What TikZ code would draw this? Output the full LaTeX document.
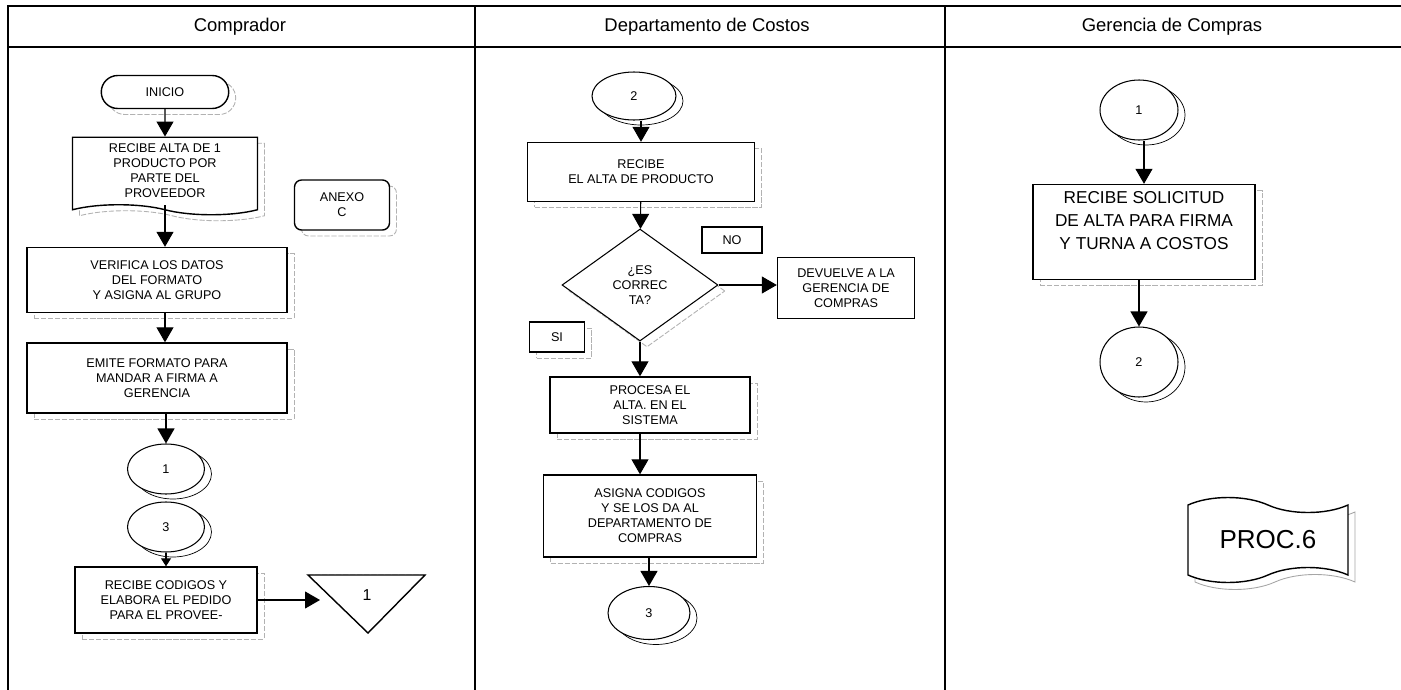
\documentclass[tikz,border=0pt]{standalone}
\usepackage{fontspec}
\setmainfont{Liberation Sans}
\usetikzlibrary{arrows.meta}
\usetikzlibrary{shapes.geometric, shapes.misc, shapes.symbols, shadows}

\tikzset{
  base/.style={draw, line width=0.8pt, fill=white, align=center, inner sep=1pt,
    font=\fontsize{7.2}{8.5}\selectfont},
  sombra/.style={general shadow={shadow xshift=0.14cm, shadow yshift=-0.12cm,
    draw=gray!60, fill=white, line width=0.5pt, dash pattern=on 3pt off 1pt}},
  sombraelip/.style={general shadow={shadow xshift=0.14cm, shadow yshift=-0.1cm,
    draw=black, fill=white, line width=0.4pt}},
  caja/.style={base, sombra, rectangle},
  terminal/.style={base, sombra, rounded rectangle},
  documento/.style={base, sombra, tape, tape bend top=none,
    tape bend bottom=out and in, tape bend height=0.2cm},
  conector/.style={base, sombraelip, ellipse, inner sep=0pt, line width=0.6pt},
  decision/.style={base, sombra, diamond, inner sep=0pt, line width=0.6pt},
  flecha/.style={-{Triangle[width=0.34cm,length=0.3cm]}, line width=0.6pt},
  titulo/.style={font=\fontsize{10.5}{12}\selectfont}
}

\begin{document}
\begin{tikzpicture}[x=0.02cm, y=-0.02cm]
    \useasboundingbox (0,0) rectangle (1401,690);

    % Carriles
    \draw[line width=0.6pt] (8,690) -- (8,6) -- (1401,6);
    \draw[line width=0.6pt] (8,47) -- (1401,47);
    \draw[line width=0.6pt] (475,6) -- (475,690);
    \draw[line width=0.6pt] (945,6) -- (945,690);
    \node[titulo] (tcomp) at (240,27) {Comprador};
    \node[titulo] (tcost) at (707,27) {Departamento de Costos};
    \node[titulo] (tger) at (1172,27) {Gerencia de Compras};

    % Comprador
    \node[terminal, minimum width=2.62cm, minimum height=0.66cm] (inicio) at (165,92) {INICIO};
    \node[documento, minimum width=3.7cm, minimum height=1.55cm] (recibealta) at (165,171)
        {RECIBE ALTA DE 1\\PRODUCTO POR\\PARTE DEL\\PROVEEDOR};
    \node[caja, rounded corners=4pt, minimum width=1.9cm, minimum height=1cm] (anexo) at (342,205)
        {ANEXO\\C};
    \node[caja, minimum width=5.2cm, minimum height=1.3cm] (verifica) at (157,280)
        {VERIFICA LOS DATOS\\DEL FORMATO\\Y ASIGNA AL GRUPO};
    \node[caja, minimum width=5.2cm, minimum height=1.4cm] (emite) at (157,378)
        {EMITE FORMATO PARA\\MANDAR A FIRMA A\\GERENCIA};
    \node[conector, minimum width=1.54cm, minimum height=1cm] (conA) at (166,469) {1};
    \node[conector, minimum width=1.54cm, minimum height=1cm] (conC) at (166,527) {3};
    \node[caja, minimum width=3.64cm, minimum height=1.32cm] (recibecod) at (166,600)
        {RECIBE CODIGOS Y\\ELABORA EL PEDIDO\\PARA EL PROVEE-};

    % Conector fuera de pagina
    \coordinate (ta) at (308,575);
    \coordinate (tb) at (425,575);
    \coordinate (tc) at (368,633);
    \draw[gray!60, line width=0.5pt, dash pattern=on 3pt off 1pt, xshift=0.16cm, yshift=-0.1cm]
        (ta) -- (tb) -- (tc) -- cycle;
    \draw[line width=0.8pt, fill=white] (ta) -- (tb) -- (tc) -- cycle;
    \node[font=\fontsize{9}{10}\selectfont] (tri) at (367,595) {1};
    \coordinate (trizq) at (320,600);

    \draw[flecha] (inicio) -- (recibealta);
    \draw[flecha] (recibealta.south) -- (recibealta.south |- verifica.north);
    \draw[flecha] (verifica.south -| recibealta.south) -- (recibealta.south |- emite.north);
    \draw[flecha] (conA.north |- emite.south) -- (conA.north);
    \draw[-{Triangle[width=0.2cm,length=0.16cm]}, line width=0.6pt] (conC) -- (recibecod);
    \draw[flecha] (recibecod.east) -- (trizq);

    % Departamento de Costos
    \node[conector, minimum width=1.68cm, minimum height=0.96cm] (conB) at (634,96) {2};
    \node[caja, minimum width=4.54cm, minimum height=1.18cm] (recibe) at (641,172)
        {RECIBE\\EL ALTA DE PRODUCTO};
    \node[decision, minimum width=3.12cm, minimum height=2.24cm] (correcta) at (640,285)
        {¿ES\\CORREC\\TA?};
    \node[base, minimum width=1.2cm, minimum height=0.52cm] (no) at (732,240) {NO};
    \node[base, minimum width=2.74cm, minimum height=1.22cm] (devuelve) at (846,288)
        {DEVUELVE A LA\\GERENCIA DE\\COMPRAS};
    \node[caja, minimum width=1.1cm, minimum height=0.6cm] (si) at (557,337) {SI};
    \node[caja, minimum width=4cm, minimum height=1.12cm] (procesa) at (650,405)
        {PROCESA EL\\ALTA. EN EL\\SISTEMA};
    \node[caja, minimum width=4.26cm, minimum height=1.64cm] (asigna) at (650,516)
        {ASIGNA CODIGOS\\Y SE LOS DA AL\\DEPARTAMENTO DE\\COMPRAS};
    \node[conector, minimum width=1.64cm, minimum height=1.06cm] (conC2) at (649,613) {3};

    \draw[flecha] (conB.south -| recibe.north) -- (recibe.north);
    \draw[flecha] (recibe) -- (correcta);
    \draw[flecha] (correcta.east) -- (correcta.east -| devuelve.west);
    \draw[flecha] (correcta.south) -- (correcta.south |- procesa.north);
    \draw[flecha] (procesa.south -| correcta.south) -- (correcta.south |- asigna.north);
    \draw[flecha] (asigna.south -| conC2.north) -- (conC2.north);

    % Gerencia de Compras
    \node[conector, minimum width=1.56cm, minimum height=1.2cm] (conD) at (1139,110) {1};
    \node[caja, minimum width=4.44cm, minimum height=1.9cm,
        font=\fontsize{9.8}{13}\selectfont] (solicitud) at (1144,232)
        {RECIBE SOLICITUD\\DE ALTA PARA FIRMA\\Y TURNA A COSTOS\\~};
    \node[conector, minimum width=1.56cm, minimum height=1.4cm] (conE) at (1139,362) {2};
    \node[base, tape, tape bend top=out and in, tape bend bottom=in and out,
        tape bend height=0.3cm, minimum width=3.2cm, minimum height=1.7cm,
        general shadow={shadow xshift=0.14cm, shadow yshift=-0.14cm, draw=gray!70,
        fill=white, line width=0.5pt},
        font=\fontsize{14.8}{16}\selectfont] (proc) at (1268,540) {PROC.6};

    \draw[flecha] (conD.south -| solicitud.north) -- (solicitud.north);
    \draw[flecha] (solicitud.south -| conD.south) -- (conE.north);
\end{tikzpicture}
\end{document}
